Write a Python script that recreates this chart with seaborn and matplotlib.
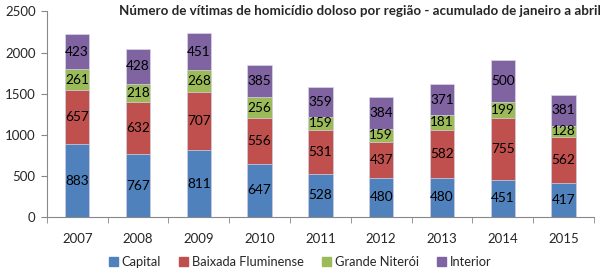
import numpy as np
import pandas as pd
import seaborn as sns
import matplotlib.pyplot as plt

# data
years = ['2007', '2008', '2009', '2010', '2011', '2012', '2013', '2014', '2015']
capital = [883, 767, 811, 647, 528, 480, 480, 451, 417]
baixada = [657, 632, 707, 556, 531, 437, 582, 755, 562]
niteroi = [261, 218, 268, 256, 159, 159, 181, 199, 128]
interior = [423, 428, 451, 385, 359, 384, 371, 500, 381]

series = ['Capital', 'Baixada Fluminense', 'Grande Niterói', 'Interior']
colors = ['#4F81BD', '#C0504D', '#9BBB59', '#8064A2']

sns.set_style('white')
plt.rcParams['font.family'] = ['Lato', 'DejaVu Sans']

fig = plt.figure(figsize=(6, 2.73), dpi=100)
ax = fig.add_axes([0.078, 0.205, 0.912, 0.753])

vals = np.array([capital, baixada, niteroi, interior])
cum = vals.cumsum(axis=0)
df = pd.DataFrame({'year': years})

# tallest first so the lower layers sit on top
for i in range(3, -1, -1):
    df['v'] = cum[i]
    sns.barplot(data=df, x='year', y='v', color=colors[i], width=0.4,
                saturation=1, edgecolor='#d8d8e8', linewidth=0.5, ax=ax)

for i in range(4):
    bottoms = cum[i] - vals[i]
    for j, v in enumerate(vals[i]):
        ax.text(j, bottoms[j] + v / 2, str(v), ha='center', va='center',
                fontsize=9.8, color='black')

ax.set_ylim(0, 2500)
ax.set_xlim(-0.5, 8.5)
ax.set_yticks([0, 500, 1000, 1500, 2000, 2500])
ax.set_xlabel('')
ax.set_ylabel('')
for s in ['top', 'right']:
    ax.spines[s].set_visible(False)
ax.spines['left'].set_color('#888888')
ax.spines['bottom'].set_color('#888888')
ax.tick_params(axis='y', left=True, length=4, color='#888888', labelsize=9.5, pad=4)
ax.tick_params(axis='x', bottom=False, labelsize=9.5, pad=8)
ax.set_xticks(np.arange(-0.5, 9, 1), minor=True)
ax.tick_params(axis='x', which='minor', bottom=True, length=4, color='#888888')

ax.text(0.572, 1.0, 'Número de vítimas de homicídio doloso por região - acumulado de janeiro a abril',
        transform=ax.transAxes, ha='center', va='center', fontsize=9.6, fontweight='bold')

handles = [plt.Rectangle((0, 0), 1, 1, color=c) for c in colors]
fig.legend(handles, series, loc='center', bbox_to_anchor=(0.5, 0.04), ncol=4,
           frameon=False, fontsize=9.3, handlelength=0.7, handleheight=0.7,
           handletextpad=0.3, columnspacing=1.4)

fig.savefig('out.png', dpi=100)
